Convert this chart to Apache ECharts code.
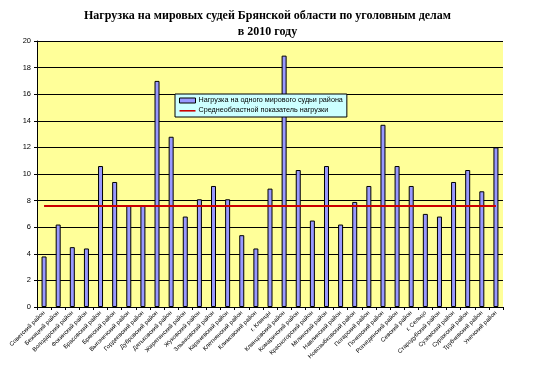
<!DOCTYPE html>
<html>
<head>
<meta charset="utf-8">
<script src="https://cdn.jsdelivr.net/npm/echarts@6/dist/echarts.min.js"></script>
<style>html,body{margin:0;padding:0;background:#fff}#c{width:535px;height:367px}</style>
</head>
<body>
<div id="c"></div>
<script>
const districts = [
  "Советский район","Бежицкий район","Володарский район","Фокинский район",
  "Брасовский район","Брянский район","Выгоничский район","Гордеевский район",
  "Дубровский район","Дятьковский район","Жирятинский район","Жуковский район",
  "Злынковский район","Карачевский район","Клетнянский район","Климовский район",
  "г. Клинцы","Клинцовский район","Комаричский район","Красногорский район",
  "Мглинский район","Навлинский район","Новозыбковский район","Погарский район",
  "Почепский район","Рогнединский район","Севский район","г. Сельцо",
  "Стародубский район","Суземский район","Суражский район","Трубчевский район",
  "Унечский район"
];
const loadPerJudge = [
  3.8, 6.2, 4.5, 4.4, 10.6, 9.4, 7.6, 7.6, 17.0, 12.8, 6.8, 8.1, 9.1, 8.1, 5.4, 4.4,
  8.9, 18.9, 10.3, 6.5, 10.6, 6.2, 7.9, 9.1, 13.7, 10.6, 9.1, 7.0, 6.8, 9.4, 10.3, 8.7, 12.0
];
const regionalAverage = [
  7.6, 7.6, 7.6, 7.6, 7.6, 7.6, 7.6, 7.6, 7.6, 7.6, 7.6, 7.6, 7.6, 7.6, 7.6, 7.6,
  7.6, 7.6, 7.6, 7.6, 7.6, 7.6, 7.6, 7.6, 7.6, 7.6, 7.6, 7.6, 7.6, 7.6, 7.6, 7.6, 7.6
];
const seriesNames = ["Нагрузка на одного мирового судьи района", "Среднеобластной показатель нагрузки"];
const titleLines = ["Нагрузка на мировых судей Брянской области по уголовным делам", "в 2010 году"];

const chart = echarts.init(document.getElementById('c'), null, {renderer: 'canvas'});
chart.setOption({
  animation: false,
  backgroundColor: '#ffffff',
  title: {
    text: titleLines.join('\n'),
    left: 'center',
    top: 3,
    textStyle: {fontFamily: 'Liberation Serif', fontWeight: 'bold', fontSize: 12, color: '#000', lineHeight: 16}
  },
  legend: {
    orient: 'vertical',
    left: 175, top: 94,
    backgroundColor: '#CCFFFF',
    borderColor: '#000', borderWidth: 1,
    padding: [3, 4, 3, 4],
    itemGap: 3,
    itemWidth: 16, itemHeight: 5,
    textStyle: {fontFamily: 'Liberation Sans', fontSize: 7.2, color: '#000', padding: [0, 0, 0, -2]},
    data: [
      {name: seriesNames[0], icon: 'rect', itemStyle: {color: '#9999FF', borderColor: '#000', borderWidth: 1}},
      {name: seriesNames[1], icon: 'path://M0,0 M0,2 L16,2 L16,3.6 L0,3.6 Z M16,5', itemStyle: {color: '#CC0000', borderWidth: 0}}
    ]
  },
  grid: {
    left: 37, right: 32, top: 41, bottom: 60,
    show: true, backgroundColor: '#FFFF99', borderWidth: 0
  },
  xAxis: {
    type: 'category',
    data: districts,
    boundaryGap: true,
    axisLine: {lineStyle: {color: '#000', width: 1}},
    axisTick: {show: true, interval: 0, length: 3, lineStyle: {color: '#000'}},
    axisLabel: {interval: 0, rotate: 45, fontSize: 6, fontFamily: 'Liberation Sans', color: '#000', margin: 5}
  },
  yAxis: {
    type: 'value',
    min: 0, max: 20, interval: 2,
    axisLine: {show: true, lineStyle: {color: '#000', width: 1}},
    axisTick: {show: true, length: 3, lineStyle: {color: '#000'}},
    axisLabel: {fontSize: 7.5, fontFamily: 'Liberation Sans', color: '#000', margin: 6},
    splitLine: {show: true, lineStyle: {color: '#000', width: 1}}
  },
  series: [
    {
      name: seriesNames[0],
      type: 'bar',
      data: loadPerJudge,
      barWidth: 5,
      itemStyle: {color: '#9999FF', borderColor: '#000', borderWidth: 1},
      z: 2
    },
    {
      name: seriesNames[1],
      type: 'line',
      data: regionalAverage,
      symbol: 'none',
      lineStyle: {color: '#CC0000', width: 2},
      itemStyle: {color: '#CC0000'},
      z: 3
    }
  ]
});
</script>
</body>
</html>
